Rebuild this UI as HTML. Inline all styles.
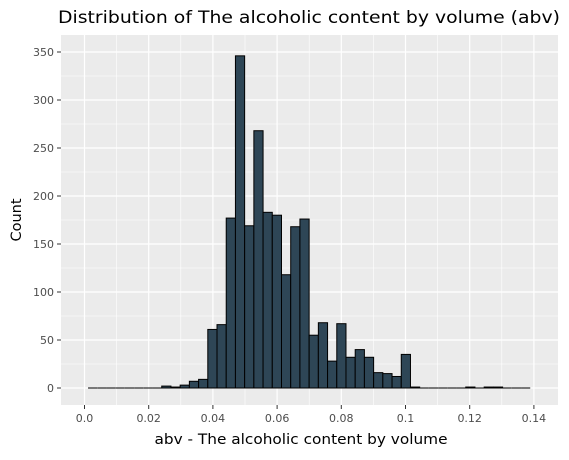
<!DOCTYPE html>
<html><head><meta charset="utf-8"><style>
body{margin:0;background:#fff;font-family:"DejaVu Sans","Liberation Sans",sans-serif;}
svg text{font-family:"DejaVu Sans","Liberation Sans",sans-serif;}
</style></head><body>
<svg id="chart" width="569" height="456">
<rect x="0" y="0" width="569" height="456" fill="#fff"/>
<text x="309" y="23" font-size="17" text-anchor="middle" textLength="502" lengthAdjust="spacingAndGlyphs" fill="#000">Distribution of The alcoholic content by volume (abv)</text>
<rect x="61" y="35" width="497" height="370" fill="#ebebeb"/>
<g id="grid"></g>
<g id="bars"></g>
<g id="axes"></g>
<text x="301" y="444" font-size="14.5" text-anchor="middle" textLength="293" lengthAdjust="spacingAndGlyphs" fill="#000">abv - The alcoholic content by volume</text>
<text x="0" y="0" font-size="14.5" text-anchor="middle" fill="#000" transform="translate(21,220) rotate(-90)">Count</text>
</svg>
<script>
const binStart = 0.0011;
const binWidth = 0.002870;
const counts = [0,0,0,0,0,0,0,0,2,1,3,7,9,61,66,177,346,169,268,183,180,118,168,176,55,68,28,67,32,40,32,16,15,12,35,1,0,0,0,0,0,1,0,1,1,0,0,0];
const xTicks = [0,0.02,0.04,0.06,0.08,0.1,0.12,0.14];
const xTickLabels = ["0.0","0.02","0.04","0.06","0.08","0.1","0.12","0.14"];
const yTicks = [0,50,100,150,200,250,300,350];
const yTickLabels = ["0","50","100","150","200","250","300","350"];

const NS="http://www.w3.org/2000/svg";
const X=v=>84.5+v*3210;
const Y=v=>388-v*0.96;
const PL=61,PR=558,PT=35,PB=405;
function mk(tag,attrs,parent){const e=document.createElementNS(NS,tag);for(const k in attrs)e.setAttribute(k,attrs[k]);parent.appendChild(e);return e;}
const grid=document.getElementById('grid'),bars=document.getElementById('bars'),axes=document.getElementById('axes');
for(let i=0;i<yTicks.length-1;i++){const v=(yTicks[i]+yTicks[i+1])/2;const l=mk('line',{x1:PL,x2:PR,y1:Y(v),y2:Y(v),stroke:'#fff','stroke-width':0.6},grid);

}
for(let i=0;i<xTicks.length-1;i++){const v=(xTicks[i]+xTicks[i+1])/2;const l=mk('line',{x1:X(v),x2:X(v),y1:PT,y2:PB,stroke:'#fff','stroke-width':0.6},grid);

}
yTicks.forEach((v,i)=>{const l=mk('line',{x1:PL,x2:PR,y1:Y(v),y2:Y(v),stroke:'#fff','stroke-width':1.2},grid);


const t=mk('line',{x1:PL-4,x2:PL,y1:Y(v),y2:Y(v),stroke:'#333','stroke-width':1},axes);


const tx=mk('text',{x:PL-7,y:Y(v)+4,'font-size':11,'text-anchor':'end',fill:'#4d4d4d'},axes);tx.textContent=yTickLabels[i];

});
xTicks.forEach((v,i)=>{const l=mk('line',{x1:X(v),x2:X(v),y1:PT,y2:PB,stroke:'#fff','stroke-width':1.2},grid);


const t=mk('line',{x1:X(v),x2:X(v),y1:PB,y2:PB+4,stroke:'#333','stroke-width':1},axes);


const tx=mk('text',{x:X(v),y:PB+17,'font-size':11,'text-anchor':'middle',fill:'#4d4d4d'},axes);tx.textContent=xTickLabels[i];

});
counts.forEach((c,i)=>{const x0=X(binStart+i*binWidth),x1=X(binStart+(i+1)*binWidth);
if(c===0){const z=mk('line',{x1:x0,x2:x1,y1:Y(0),y2:Y(0),stroke:'#000','stroke-width':1},bars);

return;}
const r=mk('rect',{x:x0,y:Y(c),width:x1-x0,height:Y(0)-Y(c),fill:'#2e4656',stroke:'#000','stroke-width':1},bars);

});
</script>
</body></html>
